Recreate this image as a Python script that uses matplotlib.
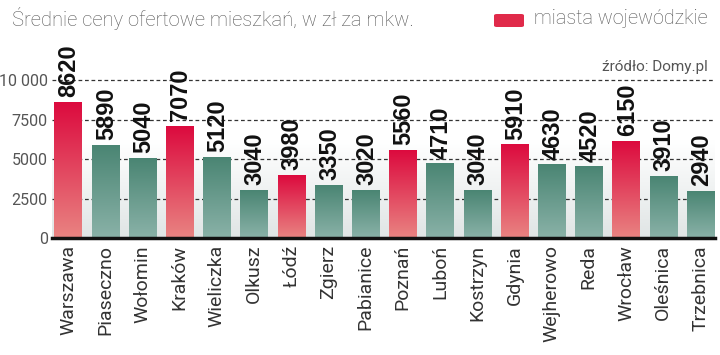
import matplotlib
matplotlib.use("Agg")
import matplotlib.pyplot as plt
import numpy as np
from matplotlib.patches import FancyBboxPatch
from matplotlib.colors import LinearSegmentedColormap

cities = ["Warszawa", "Piaseczno", "Wołomin", "Kraków", "Wieliczka", "Olkusz",
          "Łódź", "Zgierz", "Pabianice", "Poznań", "Luboń", "Kostrzyn",
          "Gdynia", "Wejherowo", "Reda", "Wrocław", "Oleśnica", "Trzebnica"]
prices = [8620, 5890, 5040, 7070, 5120, 3040, 3980, 3350, 3020, 5560, 4710,
          3040, 5910, 4630, 4520, 6150, 3910, 2940]
voivodeship = [True, False, False, True, False, False, True, False, False, True,
               False, False, True, False, False, True, False, False]
yticks = [0, 2500, 5000, 7500, 10000]
yticklabels = ["0", "2500", "5000", "7500", "10 000"]

fig = plt.figure(figsize=(7.2, 3.55), dpi=100)
ax = fig.add_axes([52/720, 1-238/355, (715-52)/720, (238-44)/355])
X0, X1, YTOP = -0.43, 17.39, 12300

# background gradient (white at top, light grey at bottom)
bg = np.linspace(0, 1, 256).reshape(-1, 1)
bg_cmap = LinearSegmentedColormap.from_list("bg", ["#ffffff", "#ffffff", "#e0e5e5"])
ax.imshow(bg, extent=[X0, X1, 0, YTOP], aspect='auto', cmap=bg_cmap,
          zorder=0, origin='upper')

red_cmap = LinearSegmentedColormap.from_list("r", ["#dc0a3e", "#e98482"])
green_cmap = LinearSegmentedColormap.from_list("g", ["#4a8573", "#8ab2a8"])
grad = np.linspace(0, 1, 256).reshape(-1, 1)
w = 0.73
for i, (v, vv) in enumerate(zip(prices, voivodeship)):
    cm = red_cmap if vv else green_cmap
    ax.imshow(grad, extent=[i - w/2, i + w/2, 0, v], aspect='auto', cmap=cm,
              zorder=2, origin='upper')
    ax.text(i + 0.03, v + 330, f"{v}", rotation=90, ha='center', va='bottom',
            fontsize=17, fontweight='bold', family=['Liberation Sans', 'DejaVu Sans'],
            color='#111111', zorder=4)

ax.set_xlim(X0, X1)
ax.set_ylim(0, YTOP)

for y in yticks[1:]:
    ax.axhline(y, color='#333333', lw=0.9, ls=(0, (3, 2.2)), zorder=1)

ax.set_yticks(yticks)
ax.set_yticklabels(yticklabels)
ax.set_xticks(range(len(cities)))
ax.set_xticklabels(cities, rotation=90)
ax.tick_params(axis='y', length=0, pad=3, labelsize=11.5, labelcolor='#555555')
ax.tick_params(axis='x', length=0, pad=5, labelsize=14, labelcolor='#333333')
for lab in ax.get_xticklabels() + ax.get_yticklabels():
    lab.set_family(['Roboto', 'DejaVu Sans'])

for s in ['top', 'right', 'left']:
    ax.spines[s].set_visible(False)
ax.spines['bottom'].set_linewidth(2.5)
ax.spines['bottom'].set_color('#111111')
ax.spines['bottom'].set_zorder(5)

fig.text(12/720, 1-19/355, "Średnie ceny ofertowe mieszkań, w zł za mkw.",
         fontsize=14.5, color='#555555', family=['Roboto', 'DejaVu Sans'],
         fontweight='light', va='center', ha='left')
fig.text(708/720, 1-19/355, "miasta wojewódzkie", fontsize=14.3, color='#555555',
         family=['Roboto', 'DejaVu Sans'], fontweight='light', va='center', ha='right')
leg = FancyBboxPatch((494/720, 1-27/355), 30/720, 13/355,
                     boxstyle="round,pad=0,rounding_size=0.004",
                     transform=fig.transFigure, facecolor='#e02a4a', edgecolor='none')
fig.patches.append(leg)
fig.text(708/720, 1-67/355, "źródło: Domy.pl", fontsize=11, color='#555555',
         family=['Roboto', 'DejaVu Sans'], va='center', ha='right', zorder=6)

fig.savefig("out.png", dpi=100)
